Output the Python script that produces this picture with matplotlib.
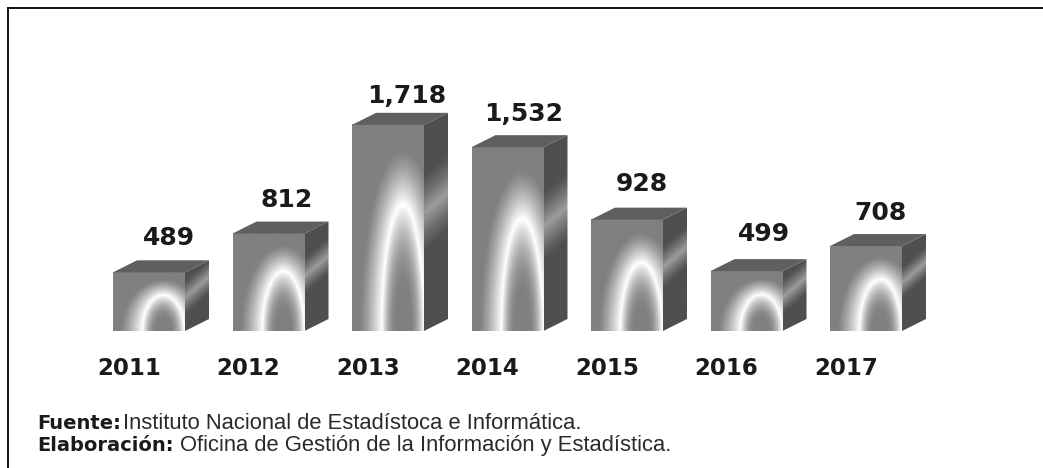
import numpy as np
import matplotlib
matplotlib.use("Agg")
import matplotlib.pyplot as plt
from matplotlib.patches import Polygon
from matplotlib.lines import Line2D

years = ["2011", "2012", "2013", "2014", "2015", "2016", "2017"]
values = [489, 812, 1718, 1532, 928, 499, 708]
value_labels = ["489", "812", "1,718", "1,532", "928", "499", "708"]

W, H = 1043, 468
STEP = 119.5           # px between bars
PX_PER_UNIT = 0.12     # px per data unit
BASE = 331             # px from top
X0 = 149               # px of first bar centre
FRONT_W = 72 / STEP
DEPTH_X = 24 / STEP
DEPTH_Y = 12 / PX_PER_UNIT
LABEL_DX = [20, 18, 19, 16, 15, 17, 14]
LABEL_DY = [34, 34, 29, 33, 36, 37, 33]

fig = plt.figure(figsize=(W / 100, H / 100), dpi=100, facecolor="white")
fig.add_artist(Line2D([7.5 / W, 7.5 / W], [0, 1 - 8 / H], transform=fig.transFigure, color="#111111", lw=1.4))
fig.add_artist(Line2D([7.5 / W, 1], [1 - 8 / H, 1 - 8 / H], transform=fig.transFigure, color="#111111", lw=1.4))

ax = fig.add_axes([0, 1 - BASE / H, 1, BASE / H])
ax.patch.set_alpha(0)
for s in ax.spines.values():
    s.set_visible(False)
ax.set_yticks([])
ax.set_xticks(np.arange(len(years)) - 20 / STEP)
ax.set_xticklabels(years, fontsize=16.5, fontweight="bold", family="DejaVu Sans", color="#1a1a1a")
ax.tick_params(axis="x", length=0, pad=19)


def front_image():
    """Ring gradient anchored on the bottom of the front face, with a wide outer glow."""
    U, V = np.meshgrid(np.linspace(0, 1, 150), np.linspace(0, 1, 300))
    cx, rx0, ry0, rx1, ry1 = 0.70, 0.29, 0.61, 0.60, 0.88
    # bisection on lam: the pixel lies on the ellipse with axes interpolated by lam
    lo, hi = np.zeros_like(U), np.full_like(U, 3.0)
    for _ in range(24):
        lam = (lo + hi) / 2
        val = ((U - cx) / (rx0 + (rx1 - rx0) * lam)) ** 2 + (V / (ry0 + (ry1 - ry0) * lam)) ** 2
        lo = np.where(val > 1, lam, lo)
        hi = np.where(val > 1, hi, lam)
    t = np.sqrt(((U - cx) / rx0) ** 2 + (V / ry0) ** 2)
    inner = np.clip((t - 0.30) / 0.70, 0, 1) ** 2.0
    outer = np.clip(1 - lo, 0, 1) ** 1.25
    ring = np.where(t < 1, inner, outer)
    return 0.50 + 0.5 * ring


def side_image(h):
    U, V = np.meshgrid(np.linspace(0, 1, 40), np.linspace(0, 1 + DEPTH_Y / h, 300))
    c = 0.57 + (DEPTH_Y / h) * U * 1.7
    half = 0.19 if h > 600 else 0.30
    d = np.abs(V - c) / half
    return 0.31 + 0.30 * np.clip(1 - d, 0, 1) ** 1.2


for i, (v, lab) in enumerate(zip(values, value_labels)):
    l, r = i - 36 / STEP, i - 36 / STEP + FRONT_W
    ax.imshow(front_image(), extent=[l, r, 0, v], origin="lower", cmap="gray",
              vmin=0, vmax=1, aspect="auto", interpolation="bilinear", zorder=2)
    im2 = ax.imshow(side_image(v), extent=[r, r + DEPTH_X, 0, v + DEPTH_Y], origin="lower",
                    cmap="gray", vmin=0, vmax=1, aspect="auto", interpolation="bilinear", zorder=2)
    side = Polygon([(r, 0), (r + DEPTH_X, DEPTH_Y), (r + DEPTH_X, v + DEPTH_Y), (r, v)],
                   closed=True, transform=ax.transData, fc="none", ec="none", clip_on=False)
    ax.add_patch(side)
    im2.set_clip_path(side)
    ax.add_patch(Polygon([(l, v), (r, v), (r + DEPTH_X, v + DEPTH_Y), (l + DEPTH_X, v + DEPTH_Y)],
                         closed=True, fc="#5f5f5f", ec="none", zorder=2, clip_on=False))
    ax.annotate(lab, xy=(i, v), xytext=(LABEL_DX[i] * 0.72, LABEL_DY[i] * 0.72),
                textcoords="offset points", ha="center", va="center",
                fontsize=18, fontweight="bold", family="DejaVu Sans", color="#1a1a1a",
                annotation_clip=False)

ax.set_xlim(-X0 / STEP, (W - X0) / STEP)
ax.set_ylim(0, BASE / PX_PER_UNIT)

foot = [
    ("Fuente:", 37, 123, "Instituto Nacional de Estadístoca e Informática.", 429),
    ("Elaboración:", 37, 180, "Oficina de Gestión de la Información y Estadística.", 451),
]
for bold, x1, x2, reg, y in foot:
    fig.text(x1 / W, 1 - y / H, bold, fontsize=14, fontweight="bold", family="DejaVu Sans",
             va="baseline", color="#1a1a1a")
    fig.text(x2 / W, 1 - y / H, reg, fontsize=15.8, family="Liberation Sans",
             va="baseline", color="#2a2a2a")

fig.savefig("out.png", dpi=100)
